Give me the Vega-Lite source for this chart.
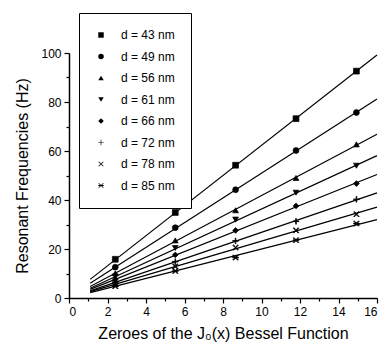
{
  "$schema": "https://vega.github.io/schema/vega-lite/v6.json",
  "width": 308,
  "height": 245,
  "autosize": {"type": "none"},
  "padding": {"left": 69, "top": 53, "right": 8, "bottom": 50},
  "config": {
    "view": {"stroke": null},
    "font": "Liberation Sans",
    "axis": {
      "domainColor": "black",
      "domainWidth": 1.5,
      "tickColor": "black",
      "tickWidth": 1.2,
      "labelColor": "black",
      "labelFont": "Liberation Sans",
      "labelFontSize": 12,
      "titleColor": "black",
      "titleFont": "Liberation Sans",
      "titleFontWeight": "normal",
      "titleFontSize": 16,
      "grid": false
    }
  },
  "datasets": {
    "points": [
      {"d": "d = 43 nm", "x": 2.405, "f": 15.8},
      {"d": "d = 43 nm", "x": 5.520, "f": 34.9},
      {"d": "d = 43 nm", "x": 8.654, "f": 54.2},
      {"d": "d = 43 nm", "x": 11.792, "f": 73.2},
      {"d": "d = 43 nm", "x": 14.931, "f": 92.6},
      {"d": "d = 49 nm", "x": 2.405, "f": 12.6},
      {"d": "d = 49 nm", "x": 5.520, "f": 28.7},
      {"d": "d = 49 nm", "x": 8.654, "f": 44.2},
      {"d": "d = 49 nm", "x": 11.792, "f": 60.2},
      {"d": "d = 49 nm", "x": 14.931, "f": 75.7},
      {"d": "d = 56 nm", "x": 2.405, "f": 10.1},
      {"d": "d = 56 nm", "x": 5.520, "f": 23.5},
      {"d": "d = 56 nm", "x": 8.654, "f": 35.8},
      {"d": "d = 56 nm", "x": 11.792, "f": 49.0},
      {"d": "d = 56 nm", "x": 14.931, "f": 62.7},
      {"d": "d = 61 nm", "x": 2.405, "f": 8.8},
      {"d": "d = 61 nm", "x": 5.520, "f": 20.4},
      {"d": "d = 61 nm", "x": 8.654, "f": 32.0},
      {"d": "d = 61 nm", "x": 11.792, "f": 43.0},
      {"d": "d = 61 nm", "x": 14.931, "f": 54.0},
      {"d": "d = 66 nm", "x": 2.405, "f": 7.6},
      {"d": "d = 66 nm", "x": 5.520, "f": 17.6},
      {"d": "d = 66 nm", "x": 8.654, "f": 27.6},
      {"d": "d = 66 nm", "x": 11.792, "f": 37.6},
      {"d": "d = 66 nm", "x": 14.931, "f": 46.7},
      {"d": "d = 72 nm", "x": 2.405, "f": 6.5},
      {"d": "d = 72 nm", "x": 5.520, "f": 14.8},
      {"d": "d = 72 nm", "x": 8.654, "f": 23.3},
      {"d": "d = 72 nm", "x": 11.792, "f": 31.3},
      {"d": "d = 72 nm", "x": 14.931, "f": 40.3},
      {"d": "d = 78 nm", "x": 2.405, "f": 5.6},
      {"d": "d = 78 nm", "x": 5.520, "f": 12.9},
      {"d": "d = 78 nm", "x": 8.654, "f": 20.6},
      {"d": "d = 78 nm", "x": 11.792, "f": 27.6},
      {"d": "d = 78 nm", "x": 14.931, "f": 34.2},
      {"d": "d = 85 nm", "x": 2.405, "f": 4.8},
      {"d": "d = 85 nm", "x": 5.520, "f": 11.0},
      {"d": "d = 85 nm", "x": 8.654, "f": 16.5},
      {"d": "d = 85 nm", "x": 11.792, "f": 23.6},
      {"d": "d = 85 nm", "x": 14.931, "f": 30.4}
    ],
    "lines": [
      {"d": "d = 43 nm", "x": 1.1, "f": 7.6},
      {"d": "d = 43 nm", "x": 16, "f": 99.2},
      {"d": "d = 49 nm", "x": 1.1, "f": 6.0},
      {"d": "d = 49 nm", "x": 16, "f": 81.2},
      {"d": "d = 56 nm", "x": 1.1, "f": 4.7},
      {"d": "d = 56 nm", "x": 16, "f": 66.8},
      {"d": "d = 61 nm", "x": 1.1, "f": 4.0},
      {"d": "d = 61 nm", "x": 16, "f": 58.1},
      {"d": "d = 66 nm", "x": 1.1, "f": 3.5},
      {"d": "d = 66 nm", "x": 16, "f": 50.4},
      {"d": "d = 72 nm", "x": 1.1, "f": 2.9},
      {"d": "d = 72 nm", "x": 16, "f": 42.9},
      {"d": "d = 78 nm", "x": 1.1, "f": 2.6},
      {"d": "d = 78 nm", "x": 16, "f": 37.1},
      {"d": "d = 85 nm", "x": 1.1, "f": 2.2},
      {"d": "d = 85 nm", "x": 16, "f": 32.0}
    ]
  },
  "layer": [
    {
      "data": {"name": "lines"},
      "mark": {"type": "line", "color": "black", "strokeWidth": 1.2},
      "encoding": {
        "x": {"field": "x", "type": "quantitative", "scale": {"domain": [0, 16], "nice": false},
          "axis": {"orient": "bottom", "values": [1, 3, 5, 7, 9, 11, 13, 15], "labels": false, "domain": false, "tickSize": 3, "title": null}},
        "y": {"field": "f", "type": "quantitative", "scale": {"domain": [0, 100], "nice": false},
          "axis": {"orient": "left", "values": [10, 30, 50, 70, 90], "labels": false, "domain": false, "tickSize": 3, "title": null}},
        "detail": {"field": "d"}
      }
    },
    {
      "data": {"name": "points"},
      "mark": {"type": "point", "filled": true, "color": "black", "stroke": "black", "strokeWidth": 0.7, "opacity": 1},
      "encoding": {
        "x": {"field": "x", "type": "quantitative", "scale": {"domain": [0, 16], "nice": false},
          "axis": {"orient": "bottom", "values": [0, 2, 4, 6, 8, 10, 12, 14, 16], "tickSize": 5, "labelPadding": 3, "title": "Zeroes of the J₀(x) Bessel Function", "titlePadding": 8}},
        "y": {"field": "f", "type": "quantitative", "scale": {"domain": [0, 100], "nice": false},
          "axis": {"orient": "left", "values": [0, 20, 40, 60, 80, 100], "tickSize": 5, "labelPadding": 3, "title": "Resonant Frequencies (Hz)", "titlePadding": 10}},
        "shape": {
          "field": "d", "type": "nominal",
          "scale": {
            "domain": ["d = 43 nm", "d = 49 nm", "d = 56 nm", "d = 61 nm", "d = 66 nm", "d = 72 nm", "d = 78 nm", "d = 85 nm"],
            "range": [
              "square", "circle", "triangle-up", "triangle-down", "diamond",
              "M-1,-0.12L-0.12,-0.12L-0.12,-1L0.12,-1L0.12,-0.12L1,-0.12L1,0.12L0.12,0.12L0.12,1L-0.12,1L-0.12,0.12L-1,0.12Z",
              "M-0.75,-0.948L0,-0.198L0.75,-0.948L0.948,-0.75L0.198,0L0.948,0.75L0.75,0.948L0,0.198L-0.75,0.948L-0.948,0.75L-0.198,0L-0.948,-0.75Z",
              "M-0.75,-0.948L0,-0.198L0.75,-0.948L0.948,-0.75L0.198,0L0.948,0.75L0.75,0.948L0,0.198L-0.75,0.948L-0.948,0.75L-0.198,0L-0.948,-0.75ZM-1,-0.14L1,-0.14L1,0.14L-1,0.14Z"
            ]
          },
          "legend": {
            "orient": "none", "legendX": 10, "legendY": -40,
            "title": null, "strokeColor": "black", "fillColor": "white",
            "padding": 16, "rowPadding": 9.5, "labelFontSize": 12, "labelFont": "Liberation Sans",
            "labelColor": "black", "labelOffset": 14, "symbolSize": 30,
            "symbolFillColor": "black", "symbolStrokeColor": "black", "symbolStrokeWidth": 0.7,
            "encode": {"symbols": {"update": {"stroke": {"value": "black"}, "strokeWidth": {"value": 0.7}, "fill": {"value": "black"}, "opacity": {"value": 1}, "size": {"value": 30}}}}
          }
        },
        "size": {"value": 34}
      }
    }
  ],
  "resolve": {"axis": {"x": "independent", "y": "independent"}}
}
